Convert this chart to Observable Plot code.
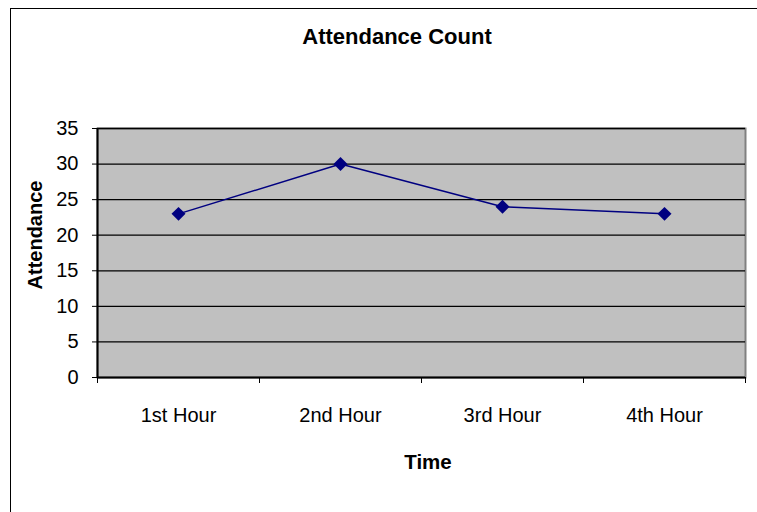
<!DOCTYPE html>
<html>
<head>
<meta charset="utf-8">
<script src="https://cdn.jsdelivr.net/npm/d3@7"></script>
<script src="https://cdn.jsdelivr.net/npm/@observablehq/plot@0.6"></script>
<style>
  html, body { margin: 0; padding: 0; background: #fff; overflow: hidden; width: 757px; height: 512px; }
  #wrap { position: relative; width: 757px; height: 512px; font-family: "Liberation Sans", Arial, sans-serif; }
  #border { position: absolute; left: 10px; top: 8px; width: 900px; height: 700px; border: 1.5px solid #000; box-sizing: border-box; }
  #chart { position: absolute; left: 0; top: 0; }
  .lbl { position: absolute; font-weight: bold; color: #000; white-space: nowrap; }
  #title { left: 397px; top: 37px; transform: translate(-50%, -50%); font-size: 22px; }
  #ylab { left: 35px; top: 235px; transform: translate(-50%, -50%) rotate(-90deg); font-size: 20px; }
  #xlab { left: 428px; top: 462px; transform: translate(-50%, -50%); font-size: 20.5px; }
</style>
</head>
<body>
<div id="wrap">
  <div id="border"></div>
  <div id="chart"></div>
  <div class="lbl" id="title">Attendance Count</div>
  <div class="lbl" id="ylab">Attendance</div>
  <div class="lbl" id="xlab">Time</div>
</div>
<script>
const categories = ["1st Hour", "2nd Hour", "3rd Hour", "4th Hour"];
const attendance = [23, 30, 24, 23];
const yTicks = [0, 5, 10, 15, 20, 25, 30, 35];

const data = categories.map((c, i) => ({i, category: c, value: attendance[i]}));
const idx = categories.map((_, i) => i);
const bounds = [...idx.map(i => i - 0.5), categories.length - 0.5];

const chart = Plot.plot({
  width: 757,
  height: 512,
  marginLeft: 97,
  marginRight: 12,
  marginTop: 128,
  marginBottom: 135,
  style: {fontFamily: "'Liberation Sans', Arial, sans-serif", color: "#000", background: "transparent"},
  x: {domain: [-0.5, categories.length - 0.5]},
  y: {domain: [0, 35]},
  marks: [
    Plot.frame({fill: "#C0C0C0", stroke: "#808080", strokeWidth: 2}),
    Plot.ruleY(yTicks.filter(d => d > 0), {stroke: "#000", strokeWidth: 1.3}),
    Plot.ruleY([0], {stroke: "#000", strokeWidth: 2}),
    Plot.ruleX([-0.5], {stroke: "#000", strokeWidth: 2}),
    Plot.axisY({ticks: yTicks, tickSize: 5, tickPadding: 14, label: null, fontSize: 20, stroke: "#000"}),
    Plot.axisX({ticks: bounds, tickSize: 6, tickFormat: () => "", label: null, stroke: "#000"}),
    Plot.axisX({ticks: idx, tickSize: 0, tickPadding: 30, tickFormat: i => categories[i], label: null, fontSize: 20}),
    Plot.line(data, {x: "i", y: "value", stroke: "#000080", strokeWidth: 1.5}),
    Plot.dot(data, {x: "i", y: "value", symbol: "diamond2", r: 6.3, fill: "#000080", stroke: "none"})
  ]
});
document.getElementById("chart").appendChild(chart);
</script>
</body>
</html>
